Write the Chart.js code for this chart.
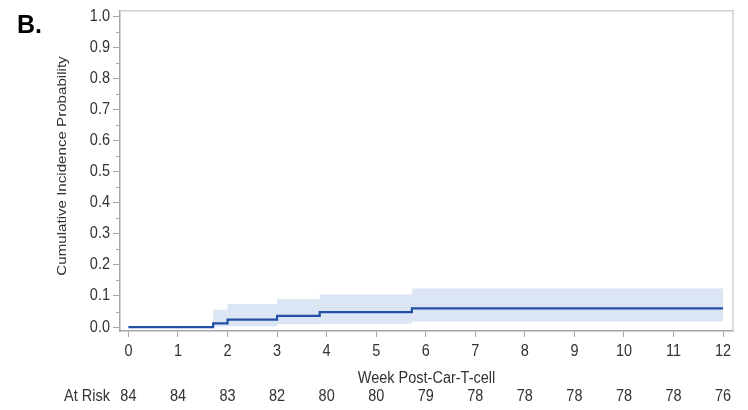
<!DOCTYPE html>
<html>
<head>
<meta charset="utf-8">
<script src="https://cdn.jsdelivr.net/npm/chart.js@4.4.0/dist/chart.umd.min.js"></script>
<style>
    html, body { margin: 0; padding: 0; background: #fff; }
    #wrap { width: 748px; height: 410px; position: relative; }
</style>
</head>
<body>
<div id="wrap"><canvas id="chartCif" width="748" height="410"></canvas></div>
<script>
// Data
const stepWeeks = [0, 1.71, 2.0, 3.0, 3.86, 5.72, 12];
const cifValues = [0, 0.012, 0.024, 0.036, 0.048, 0.060, 0.060];
const upperCI  = [0, 0.056, 0.074, 0.090, 0.105, 0.124, 0.124];
const lowerCI  = [0, 0.002, 0.003, 0.009, 0.011, 0.018, 0.018];
const weekTicks = [0, 1, 2, 3, 4, 5, 6, 7, 8, 9, 10, 11, 12];
const atRisk = [84, 84, 83, 82, 80, 80, 79, 78, 78, 78, 78, 78, 76];
const yTicks = [0, 0.1, 0.2, 0.3, 0.4, 0.5, 0.6, 0.7, 0.8, 0.9, 1.0];

const FONT = 'Arial, "Liberation Sans", sans-serif';
const TEXT = '#333333';
const AXIS = '#a6a6a6';
const SZ = 14.5;   // text looks a little stretched upward in the picture
const STRETCH = 1.12;

function pts(ys) {
    return stepWeeks.map((x, i) => ({ x: x, y: ys[i] }));
}

function drawText(ctx, str, x, y, align, rotate) {
    ctx.save();
    ctx.translate(x, y);
    if (rotate) ctx.rotate(-Math.PI / 2);
    if (rotate) ctx.scale(STRETCH, 1); else ctx.scale(1, STRETCH);
    ctx.textAlign = align;
    ctx.textBaseline = 'middle';
    ctx.fillText(str, 0, 0);
    ctx.restore();
}

// Frame, minor ticks, all labels, at-risk row
const extras = {
    id: 'extras',
    beforeDatasetsDraw(chart) {
        const { ctx, chartArea: a } = chart;
        ctx.save();
        ctx.strokeStyle = '#cfcfcf';
        ctx.lineWidth = 1.5;
        ctx.beginPath();
        ctx.moveTo(a.left, a.top);
        ctx.lineTo(a.right, a.top);
        ctx.lineTo(a.right, a.bottom);
        ctx.stroke();
        ctx.restore();
    },
    afterDraw(chart) {
        const { ctx, chartArea: a, scales } = chart;
        const x = scales.x, y = scales.y;
        ctx.save();
        // minor y ticks
        ctx.strokeStyle = AXIS;
        ctx.lineWidth = 1;
        for (let i = 0; i < yTicks.length - 1; i++) {
            const py = Math.round(y.getPixelForValue(yTicks[i] + 0.05)) + 0.5;
            ctx.beginPath();
            ctx.moveTo(a.left - 4, py);
            ctx.lineTo(a.left, py);
            ctx.stroke();
        }
        ctx.fillStyle = TEXT;
        ctx.font = SZ + 'px ' + FONT;
        yTicks.forEach(v => drawText(ctx, v.toFixed(1), 110, y.getPixelForValue(v), 'right'));
        weekTicks.forEach((w, i) => {
            const px = x.getPixelForValue(w);
            drawText(ctx, String(w), px, 352, 'center');
            drawText(ctx, String(atRisk[i]), px, 396.5, 'center');
        });
        drawText(ctx, 'Week Post-Car-T-cell', (a.left + a.right) / 2, 379, 'center');
        drawText(ctx, 'At Risk', 110, 396.5, 'right');
        ctx.font = '13.5px ' + FONT;
        drawText(ctx, 'Cumulative Incidence Probability', 62, 166, 'center', true);
        // panel letter
        ctx.fillStyle = '#000';
        ctx.font = 'bold 25px ' + FONT;
        ctx.textAlign = 'left';
        ctx.textBaseline = 'alphabetic';
        ctx.fillText('B.', 17, 33);
        ctx.restore();
    }
};

new Chart(document.getElementById('chartCif').getContext('2d'), {
    type: 'line',
    data: {
        datasets: [{
            label: 'Upper CI',
            data: pts(upperCI),
            stepped: 'before',
            borderWidth: 0,
            pointRadius: 0,
            backgroundColor: '#dbe5f3',
            fill: '+1',
            order: 2
        }, {
            label: 'Lower CI',
            data: pts(lowerCI),
            stepped: 'before',
            borderWidth: 0,
            pointRadius: 0,
            fill: false,
            order: 2
        }, {
            label: 'Cumulative incidence',
            data: pts(cifValues),
            stepped: 'before',
            borderColor: '#2350a6',
            borderWidth: 2.2,
            pointRadius: 0,
            fill: false,
            order: 1
        }]
    },
    options: {
        responsive: false,
        animation: false,
        layout: { padding: { top: 5, right: 15, left: 0, bottom: 0 } },
        plugins: { legend: { display: false }, tooltip: { enabled: false } },
        scales: {
            x: {
                type: 'linear',
                min: -0.17,
                max: 12.2,
                afterBuildTicks: s => { s.ticks = weekTicks.map(v => ({ value: v })); },
                afterFit: s => { s.height = 79; },
                grid: { drawOnChartArea: false, tickLength: 6, tickColor: AXIS },
                border: { color: AXIS, width: 1.5 },
                ticks: { color: 'rgba(0,0,0,0)', font: { size: 13, family: FONT }, maxRotation: 0 }
            },
            y: {
                min: -0.0126,
                max: 1.017,
                afterBuildTicks: s => { s.ticks = yTicks.map(v => ({ value: v })); },
                afterFit: s => { s.width = 120; },
                grid: { drawOnChartArea: false, tickLength: 7, tickColor: AXIS },
                border: { color: AXIS, width: 1.5 },
                ticks: { color: 'rgba(0,0,0,0)', font: { size: 13, family: FONT } }
            }
        }
    },
    plugins: [extras]
});
</script>
</body>
</html>
